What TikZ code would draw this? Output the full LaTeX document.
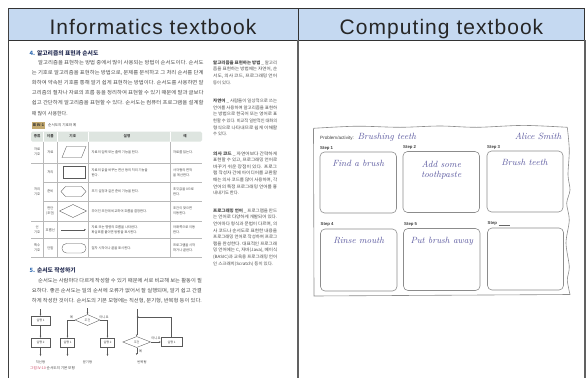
\documentclass[tikz,border=0pt]{standalone}
\usepackage{fontspec}
\usepackage{graphicx}
\usetikzlibrary{arrows.meta,shapes.geometric}
\newfontfamily\kr{Noto Sans CJK KR}
\newfontfamily\hdr[LetterSpace=5]{Liberation Sans}
\newfontfamily\lsans{Liberation Sans}
\definecolor{hdrblue}{RGB}{197,217,241}
\definecolor{ptext}{RGB}{72,72,72}
\definecolor{navy}{RGB}{38,46,84}
\definecolor{hblue}{RGB}{52,110,180}
\definecolor{thfill}{RGB}{222,229,224}
\definecolor{tanbox}{RGB}{196,170,112}
\definecolor{capred}{RGB}{205,70,100}
\definecolor{tline}{RGB}{185,185,185}
\definecolor{wsgray}{RGB}{140,140,140}
\definecolor{hand}{RGB}{92,90,160}
\newcommand\kfit[3]{\resizebox{#1pt}{\height}{\kr\fontsize{#2}{#2}\selectfont #3}}
\newcommand\ksz[2]{{\kr\fontsize{#1}{#1}\selectfont #2}}
\tikzset{
 tl/.style={anchor=base west, inner sep=0pt, text=ptext},
 tc/.style={anchor=base, inner sep=0pt, text=ptext, align=center},
 hdrtxt/.style={anchor=base, inner sep=0pt, text=black!85, font=\hdr\fontsize{21}{21}\selectfont},
 thinrule/.style={draw=black!80, line width=0.8pt},
 leftrule/.style={draw=black!75, line width=1.3pt},
 thickrule/.style={draw=black!62, line width=2pt},
 sym/.style={draw=black!65, line width=0.35pt},
 tabline/.style={draw=tline, line width=0.4pt},
 fbox/.style={draw=black!65, line width=0.35pt, minimum width=19pt, minimum height=9pt, inner sep=0pt, font=\kr\fontsize{3}{3}\selectfont, text=ptext},
 fdia/.style={diamond, draw=black!65, line width=0.35pt, minimum width=25pt, minimum height=11pt, aspect=2.5, inner sep=0pt, font=\kr\fontsize{3}{3}\selectfont, text=ptext},
 farrow/.style={draw=black!65, line width=0.35pt, -{Stealth[length=2pt,width=1.6pt]}},
 fline/.style={draw=black!65, line width=0.35pt},
 flab/.style={anchor=base, inner sep=0pt, text=ptext, font=\kr\fontsize{3.3}{3.3}\selectfont},
 wsframe/.style={draw=wsgray, line width=0.6pt},
 wsbox/.style={draw=wsgray, line width=0.6pt, rounded corners=4.5pt},
 hw/.style={inner sep=0pt, text=hand, font=\itshape\fontsize{9}{10}\selectfont},
 stp/.style={anchor=base west, inner sep=0pt, text=black!75, font=\lsans\bfseries\fontsize{4.3}{5}\selectfont},
}
\begin{document}
\begin{tikzpicture}[x=1pt,y=-1pt]
\useasboundingbox (0,0) rectangle (586,378);
\fill[white] (0,0) rectangle (586,378);
% ---------- header ----------
\fill[hdrblue] (8,8) rectangle (585,40);
\node[hdrtxt] (h1) at (153,34.4) {Informatics textbook};
\node[hdrtxt] (h2) at (441.5,34.4) {Computing textbook};
\draw[thinrule] (8,8) -- (585,8);
\draw[thinrule] (8,40) -- (585,40);
\draw[thinrule] (298,8) -- (298,40);
\draw[thinrule] (584.8,8) -- (584.8,40);
\draw[leftrule] (8.6,8) -- (8.6,378);
\draw[thickrule] (297.5,40) -- (297.5,378);
\draw[thickrule] (584.6,40) -- (584.6,378);
% ---------- left page: heading 4 ----------
\node[tl, text=navy, font=\kr\bfseries\fontsize{5.8}{5.8}\selectfont] (hd4) at (29.5,55) {\textcolor{hblue}{4.} 알고리즘의 표현과 순서도};
\node[tl] (pa1) at (38,64.5) {\kfit{165.3}{5}{알고리즘을 표현하는 방법 중에서 많이 사용되는 방법이 순서도이다. 순서도}};
\node[tl] (pa2) at (31.7,74.6) {\kfit{171.6}{5}{는 기호로 알고리즘을 표현하는 방법으로, 문제를 분석하고 그 처리 순서를 단계}};
\node[tl] (pa3) at (31.7,84.7) {\kfit{171.6}{5}{화하여 약속된 기호를 통해 알기 쉽게 표현하는 방법이다. 순서도를 사용하면 알}};
\node[tl] (pa4) at (31.7,94.8) {\kfit{171.6}{5}{고리즘의 절차나 자료의 흐름 등을 정리하여 표현할 수 있기 때문에 말과 글보다}};
\node[tl] (pa5) at (31.7,104.9) {\kfit{171.6}{5}{쉽고 간단하게 알고리즘을 표현할 수 있다. 순서도는 컴퓨터 프로그램을 설계할}};
\node[tl] (pa6) at (31.7,115) {\ksz{5}{때 많이 사용한다.}};
% ---------- sidebar ----------
\node[tl] (sa1) at (213,64.3) {\kfit{64}{4.3}{\textbf{알고리즘을 표현하는 방법} \_ 알고리}};
\node[tl] (sa2) at (213,70.9) {\kfit{64}{4.3}{즘을 표현하는 방법에는 자연어, 순}};
\node[tl] (sa3) at (213,77.5) {\kfit{64}{4.3}{서도, 의사 코드, 프로그래밍 언어}};
\node[tl] (sa4) at (213,84.1) {\ksz{4.3}{등이 있다.}};
\node[tl] (sb1) at (213,102.6) {\kfit{64}{4.3}{\textbf{자연어} \_ 사람들이 일상적으로 쓰는}};
\node[tl] (sb2) at (213,109.2) {\kfit{64}{4.3}{언어를 사용하여 알고리즘을 표현하}};
\node[tl] (sb3) at (213,115.8) {\kfit{64}{4.3}{는 방법으로 한국어 또는 영어로 표}};
\node[tl] (sb4) at (213,122.4) {\kfit{64}{4.3}{현할 수 있다. 비교적 일반적인 대화의}};
\node[tl] (sb5) at (213,129) {\kfit{64}{4.3}{형식으로 나타내므로 쉽게 이해할}};
\node[tl] (sb6) at (213,135.6) {\ksz{4.3}{수 있다.}};
\node[tl] (sc1) at (213,155) {\kfit{64}{4.3}{\textbf{의사 코드} \_ 자연어보다 간략하게}};
\node[tl] (sc2) at (213,161.6) {\kfit{64}{4.3}{표현할 수 있고, 프로그래밍 언어로}};
\node[tl] (sc3) at (213,168.2) {\kfit{64}{4.3}{바꾸기 쉬운 장점이 있다. 프로그}};
\node[tl] (sc4) at (213,174.8) {\kfit{64}{4.3}{램 작성자 간에 아이디어를 교환할}};
\node[tl] (sc5) at (213,181.4) {\kfit{64}{4.3}{때는 의사 코드를 많이 사용하며, 각}};
\node[tl] (sc6) at (213,188) {\kfit{64}{4.3}{언어의 특정 프로그래밍 언어를 흉}};
\node[tl] (sc7) at (213,194.6) {\ksz{4.3}{내내기도 한다.}};
\node[tl] (sd1) at (213,212.3) {\kfit{64}{4.3}{\textbf{프로그래밍 언어} \_ 프로그램을 만드}};
\node[tl] (sd2) at (213,218.9) {\kfit{64}{4.3}{는 언어로 다양하게 개발되어 있다.}};
\node[tl] (sd3) at (213,225.5) {\kfit{64}{4.3}{언어마다 형식과 문법이 다르며, 의}};
\node[tl] (sd4) at (213,232.1) {\kfit{64}{4.3}{사 코드나 순서도로 표현한 내용을}};
\node[tl] (sd5) at (213,238.7) {\kfit{64}{4.3}{프로그래밍 언어로 작성하여 프로그}};
\node[tl] (sd6) at (213,245.3) {\kfit{64}{4.3}{램을 완성한다. 대표적인 프로그래}};
\node[tl] (sd7) at (213,251.9) {\kfit{64}{4.3}{밍 언어에는 C, 자바(Java), 베이식}};
\node[tl] (sd8) at (213,258.5) {\kfit{64}{4.3}{(BASIC)과 교육용 프로그래밍 언어}};
\node[tl] (sd9) at (213,265.1) {\kfit{60}{4.3}{인 스크래치(Scratch) 등이 있다.}};
% ---------- table ----------
\fill[tanbox] (31.5,121.6) rectangle (45.3,128.6);
\node[anchor=base, inner sep=0pt, text=black!80, font=\kr\bfseries\fontsize{3.6}{3.6}\selectfont] (tcap1) at (38.4,126.6) {표 IV-1};
\node[tl, font=\kr\fontsize{3.6}{3.6}\selectfont] (tcap2) at (48,126.6) {순서도의 기호와 예};
\fill[thfill, rounded corners=1.5pt] (31,131.5) rectangle (202,141.5);
\foreach \xx in {43.5,57,88.5,170} \draw[white, line width=0.6pt] (\xx,131.5) -- (\xx,141.5);
\node[tc, font=\kr\bfseries\fontsize{3.6}{3.6}\selectfont] (th1) at (37.2,137.8) {종류};
\node[tc, font=\kr\bfseries\fontsize{3.6}{3.6}\selectfont] (th2) at (50.3,137.8) {이름};
\node[tc, font=\kr\bfseries\fontsize{3.6}{3.6}\selectfont] (th3) at (72.8,137.8) {기호};
\node[tc, font=\kr\bfseries\fontsize{3.6}{3.6}\selectfont] (th4) at (127,137.8) {설명};
\node[tc, font=\kr\bfseries\fontsize{3.6}{3.6}\selectfont] (th5) at (185,137.8) {예};
\foreach \yy in {163,221,238.5,257} \draw[tabline] (31,\yy) -- (202,\yy);
\foreach \yy in {182,201} \draw[tabline] (43.5,\yy) -- (202,\yy);
\foreach \xx in {43.5,57,88.5,170} \draw[tabline] (\xx,141.5) -- (\xx,257);
% row texts (two-line nodes: base = last line)
\begin{scope}[every node/.append style={font=\kr\fontsize{3.3}{4.9}\selectfont}]
\node[tc] (c11) at (37.2,155.3) {자료\\기호};
\node[tc] (c21) at (37.2,195.3) {처리\\기호};
\node[tc] (c51) at (37.2,233) {선\\기호};
\node[tc] (c61) at (37.2,251.3) {특수\\기호};
\node[tc] (n1) at (50.3,153.2) {자료};
\node[tc] (n2) at (50.3,173.7) {처리};
\node[tc] (n3) at (50.3,192.7) {준비};
\node[tc] (n4) at (50.3,214.5) {판단\\(조건)};
\node[tc] (n5) at (50.3,231) {흐름선};
\node[tc] (n6) at (50.3,249.3) {단말};
\node[tl] (d1) at (91.5,153.2) {자료의 입력 또는 출력 기능을 한다.};
\node[tl, align=left] (d2) at (91.5,176.1) {자료의 값을 바꾸는 연산 등의 처리 기능을\\한다.};
\node[tl] (d3) at (91.5,192.7) {초기 설정과 같은 준비 기능을 한다.};
\node[tl] (d4) at (91.5,212.2) {주어진 조건에 비교하여 흐름을 결정한다.};
\node[tl, align=left] (d5) at (91.5,233.3) {자료 또는 명령의 흐름을 나타낸다.\\화살표를 붙이면 방향을 표시한다.};
\node[tl] (d6) at (91.5,249.3) {절차 시작이나 끝을 표시한다.};
\node[tl] (e1) at (173,153.2) {자료를 읽는다.};
\node[tl, align=left] (e2) at (173,176.1) {사각형의 면적\\을 계산한다.};
\node[tl, align=left] (e3) at (173,195.1) {초깃값을 0으로\\한다.};
\node[tl, align=left] (e4) at (173,214.5) {조건이 맞으면\\이동한다.};
\node[tl, align=left] (e5) at (173,233.3) {아래쪽으로 이동\\한다.};
\node[tl, align=left] (e6) at (173,251.6) {프로그램을 시작\\하거나 끝낸다.};
\end{scope}
% symbols
\draw[sym] (62,157.5) -- (66.5,146.5) -- (86,146.5) -- (81.5,157.5) -- cycle;
\draw[sym] (63,166.5) rectangle (85,178.5);
\draw[sym] (61,191.5) -- (65.5,186.5) -- (81.5,186.5) -- (86,191.5) -- (81.5,196.5) -- (65.5,196.5) -- cycle;
\draw[sym] (59.5,211) -- (73,204.5) -- (86.5,211) -- (73,217.5) -- cycle;
\draw[sym, -{Stealth[length=2pt,width=1.6pt]}] (61,229.7) -- (86,229.7);
\draw[sym, rounded corners=4.5pt] (62,243.5) rectangle (86,253);
% ---------- heading 5 ----------
\node[tl, text=navy, font=\kr\bfseries\fontsize{5.8}{5.8}\selectfont] (hd5) at (29.5,272.3) {\textcolor{hblue}{5.} 순서도 작성하기};
\node[tl] (pb1) at (38,282.5) {\kfit{163.7}{5}{순서도는 사람마다 다르게 작성할 수 있기 때문에 서로 비교해 보는 활동이 필}};
\node[tl] (pb2) at (31.7,292.5) {\kfit{170}{5}{요하다. 좋은 순서도는 일의 순서에 오류가 없어서 잘 실행되며, 알기 쉽고 간결}};
\node[tl] (pb3) at (31.7,302.5) {\kfit{170}{5}{하게 작성한 것이다. 순서도의 기본 모형에는 직선형, 분기형, 반복형 등이 있다.}};
% ---------- flowcharts ----------
\coordinate (a0) at (40.5,309);
\node[fbox] (a1) at (40.5,320.5) {실행 1};
\node[fbox] (a2) at (40.5,342.5) {실행 2};
\coordinate (a3) at (40.5,356);
\draw[farrow] (a0) -- (a1);
\draw[farrow] (a1) -- (a2);
\draw[farrow] (a2) -- (a3);
\node[flab] (al) at (40.5,363.5) {직선형};
\coordinate (b0) at (87.5,308);
\node[fdia] (bd) at (87.5,320) {조건};
\node[fbox, minimum width=14pt] (b1) at (67.5,342.5) {실행 1};
\node[fbox, minimum width=14pt] (b2) at (107.5,342.5) {실행 2};
\coordinate (b1e) at (67.5,356);
\coordinate (b2e) at (107.5,356);
\draw[farrow] (b0) -- (bd);
\draw[farrow] (bd.west) -| (b1);
\draw[farrow] (bd.east) -| (b2);
\draw[farrow] (b1) -- (b1e);
\draw[farrow] (b2) -- (b2e);
\node[flab] (byes) at (71.5,318) {예};
\node[flab] (bno) at (104,318) {아니요};
\node[flab] (bl) at (87.5,363.5) {분기형};
\coordinate (c0) at (136.7,309);
\coordinate (cj) at (136.7,317);
\node[fdia, minimum width=28pt] (cd) at (136.7,342) {조건};
\node[fbox, minimum width=21pt] (c1) at (171.5,342) {실행 1};
\coordinate (ce) at (136.7,355);
\draw[fline] (c0) -- (cj);
\draw[farrow] (cj) -- (cd);
\draw[farrow] (cd) -- (c1);
\draw[farrow] (c1.north) |- (cj);
\draw[farrow] (cd) -- (ce);
\node[flab] (cno) at (156,339.5) {아니요};
\node[flab] (cyes) at (140.5,352.5) {예};
\node[flab] (cl) at (142,363.5) {반복형};
\node[tl, font=\kr\fontsize{3.6}{3.6}\selectfont] (fcap) at (30,369.8) {\textcolor{capred}{그림 IV-10} 순서도의 기본 모형};
% ---------- right: worksheet ----------
\draw[wsframe] plot[smooth,tension=0.5] coordinates {(313.5,128.3) (356.7,126.2) (400,127.3) (440,126) (476.7,127.3) (523.3,125.4) (567.3,127.3)};
\draw[wsframe] plot[smooth,tension=0.5] coordinates {(567.3,127.3) (569.3,150) (568,175) (570,190) (566.7,203.3) (569.3,220) (566,243) (569.3,266.7) (567.3,280) (570,294.5)};
\draw[wsframe] (570,294.5) -- (314,296) -- (313.5,128.3);
\node[anchor=base west, inner sep=0pt, text=black!75, font=\lsans\fontsize{4.6}{5}\selectfont] (prob) at (320,139.2) {Problem/activity:};
\node[hw, anchor=base west] (title) at (357.5,139.5) {Brushing teeth};
\node[hw, anchor=base east] (name) at (561.5,139.3) {Alice Smith};
\node[stp] (st1) at (320,149) {Step 1};
\node[stp] (st2) at (403,148.6) {Step 2};
\node[stp] (st3) at (487,148.2) {Step 3};
\node[stp] (st4) at (320.5,225.5) {Step 4};
\node[stp] (st5) at (404,225.1) {Step 5};
\node[stp] (st6) at (487.5,224.7) {Step};
\coordinate (st6e) at (510,224.7);
\draw[draw=black!60, line width=0.4pt] ([xshift=1.5pt]st6.base east) -- (st6e);
\draw[wsbox] (320,152) rectangle (396.5,213);
\draw[wsbox] (403,151.5) rectangle (479.5,212.5);
\draw[wsbox] (487,151) rectangle (563,212);
\draw[wsbox] (320.5,229) rectangle (397,291);
\draw[wsbox] (403.5,228.5) rectangle (480,290.5);
\draw[wsbox] (487.5,228) rectangle (563.5,290);
\node[hw, anchor=base] (w1) at (358.2,166.5) {Find a brush};
\node[hw, anchor=base, align=center] (w2) at (441.3,177) {Add some\\toothpaste};
\node[hw, anchor=base] (w3) at (524.5,165.8) {Brush teeth};
\node[hw, anchor=base] (w4) at (358.7,243.3) {Rinse mouth};
\node[hw, anchor=base] (w5) at (441.8,243.3) {Put brush away};
\end{tikzpicture}
\end{document}
